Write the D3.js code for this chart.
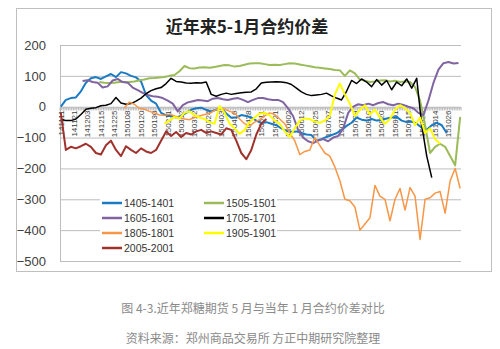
<!DOCTYPE html>
<html><head><meta charset="utf-8">
<script src="https://cdn.jsdelivr.net/npm/d3@7"></script>
<style>
html,body{margin:0;padding:0;background:#fff;}
svg{display:block;}
</style></head><body>
<svg id="chart" width="500" height="349"></svg>
<script>
// Trading-day category axis: one label every 8 sessions
const dayCount = 240;
const labelEvery = 8;
const tickLabels = ["141111","141121","141203","141215","141225","150108","150120","150130","150211","150302",
  "150312","150324","150403","150416","150428","150511","150521","150602","150612","150625",
  "150707","150717","150729","150810","150820","150901","150915","150925","151014","151026"];
const yTicks = [200, 100, 0, -100, -200, -300, -400, -500];

// Spread values (May minus January contract), sampled every 3 sessions
const sampleStep = 3;
const seriesNames = ["1405-1401","1505-1501","1605-1601","1705-1701","1805-1801","1905-1901","2005-2001"];
const seriesStart = [0, 23, 13, 0, 38, 62, 0];

const v1405 = [0,22,28,30,50,78,92,96,90,98,106,96,112,108,100,95,82,38,20,10,-20,-28,-30,-35,-30,-20,-10,-5,-3,-10,
  -15,-10,-5,-22,-36,-35,-27,-30,-35,-45,-53,-50,-55,-60,-70,-78,-82,-80,-85,-90,-92,-110,-105,-98,-92,-86,-75,-62,-52,-35,
  -42,-45,-40,-45,-43,-38,-35,-33,-45,-50,-48,-55,-68,-75,-60,-52,-60,-86];
const v1505 = [80,78,77,78,80,80,80,82,86,88,92,93,95,96,100,103,115,132,125,124,127,128,126,129,132,135,134,130,132,136,
  140,141,141,138,135,136,135,138,141,140,137,134,131,128,126,124,122,119,118,100,118,108,88,84,80,82,85,86,82,84,
  80,82,80,64,20,-60,-150,-130,-120,-130,-160,-190,-33];
const v1605 = [83,86,80,78,62,66,85,90,80,78,62,54,45,38,34,32,28,20,10,-15,5,14,18,22,20,18,26,28,24,22,
  26,28,22,15,22,28,28,24,22,22,15,-5,-30,-75,-100,-112,-118,-110,-105,-112,-100,-95,-70,-20,0,8,5,10,5,12,
  15,8,5,10,6,0,-5,-20,-27,20,77,120,141,145,140,142];
const v1705 = [-40,-45,-45,-40,-25,-8,-5,-3,3,5,10,30,12,8,10,18,28,42,52,58,62,75,92,82,80,77,76,78,77,80,
  40,34,40,44,40,43,45,47,48,58,77,79,80,81,80,78,72,60,48,40,36,38,40,44,35,28,22,50,85,75,
  90,80,65,88,70,85,55,80,68,90,60,92,-60,-160,-230];
const v1805 = [-5,15,8,-5,-8,-15,-20,-27,-28,-24,-30,-35,-40,-42,-35,-30,-25,-22,-12,-5,-8,-15,-20,-40,-55,-62,-50,-42,-30,-20,
  -25,-40,-55,-85,-110,-155,-145,-140,-100,-125,-150,-160,-195,-240,-300,-305,-325,-400,-380,-360,-255,-290,-300,-370,-300,-265,-335,-262,-290,-430,
  -300,-295,-280,-275,-345,-240,-200,-265];
const v1905 = [-55,-45,-33,-38,-20,-15,-28,-35,-40,-50,-55,2,-20,-55,-70,-88,-75,-50,-35,-22,-20,-28,-45,-55,-80,-98,-70,-45,-38,-40,
  -48,-52,-45,-30,40,75,40,10,-30,-10,5,-25,-10,-35,-55,-40,-10,5,-5,-20,-60,-35,-85,-70,-105,-120];
const v2005 = [-20,-140,-130,-135,-128,-120,-130,-150,-155,-125,-110,-140,-160,-128,-140,-150,-135,-145,-150,-140,
  -110,-80,-95,-82,-98,-85,-90,-80,-75,-85,-80,-85,-90,-70,-75,-110,-150,-170,-140,-90,-55,-40];
const seriesValues = [v1405, v1505, v1605, v1705, v1805, v1905, v2005];

// Styling
const colors = ["#1a7ac4", "#9bbb59", "#8064a2", "#000000", "#f79646", "#ffff00", "#a0322e"];
const widths = [2, 2, 2, 1.5, 1.5, 2, 2];

const svg = d3.select("#chart");
const plot = {left: 60, right: 461, top: 45, bottom: 261};

// chart frame
svg.append("rect").attr("x", 16.5).attr("y", 8.5).attr("width", 475).attr("height", 263)
  .attr("fill", "#fff").attr("stroke", "#bfbfbf").attr("stroke-width", 1);

svg.append("text").attr("x", 247).attr("y", 33).attr("text-anchor", "middle")
  .attr("font-family", "Noto Sans CJK SC").attr("font-weight", "bold").attr("font-size", 17)
  .attr("fill", "#222").text("近年来5-1月合约价差");

const x = d3.scaleBand().domain(d3.range(dayCount)).range([plot.left, plot.right]);
const xc = d => x(d) + x.bandwidth() / 2;
const y = d3.scaleLinear().domain([-500, 200]).range([plot.bottom, plot.top]);

// value axis with gridlines
const yAxis = svg.append("g").attr("transform", `translate(${plot.left},0)`)
  .call(d3.axisLeft(y).tickValues(yTicks).tickSizeInner(-(plot.right - plot.left)).tickSizeOuter(0).tickPadding(14));
yAxis.select(".domain").remove();
yAxis.selectAll("line").attr("stroke", "#bdbdbd").attr("stroke-width", 1);
yAxis.selectAll("text").attr("font-family", "Liberation Sans, Arial").attr("font-size", 13).attr("fill", "#404040");

svg.append("line").attr("x1", plot.left + 0.5).attr("x2", plot.left + 0.5)
  .attr("y1", plot.top).attr("y2", plot.bottom).attr("stroke", "#bdbdbd");

// category axis on the zero line
const y0 = Math.round(y(0)) + 0.5;
svg.append("g").selectAll("line").data(d3.range(dayCount + 1)).join("line")
  .attr("x1", d => (d < dayCount ? x(d) : plot.right)).attr("x2", d => (d < dayCount ? x(d) : plot.right))
  .attr("y1", y0).attr("y2", y0 + 3).attr("stroke", "#a8a8a8").attr("stroke-width", 0.8);

const xAxis = svg.append("g").attr("transform", `translate(0,${y0})`)
  .call(d3.axisBottom(x).tickValues(d3.range(0, dayCount, labelEvery).slice(0, tickLabels.length))
    .tickFormat(d => tickLabels[d / labelEvery]).tickSizeInner(0).tickSizeOuter(0).tickPadding(3));
xAxis.select(".domain").attr("stroke", "#bdbdbd");
xAxis.selectAll("text")
  .attr("font-family", "Liberation Sans, Arial").attr("font-size", 8).attr("fill", "#404040")
  .attr("text-anchor", "end").attr("transform", "rotate(-90)")
  .attr("x", -3).attr("y", 0).attr("dy", "0.35em");

// series lines
const line = d3.line().x(d => xc(d.day)).y(d => y(d.value));
seriesValues.forEach((vals, si) => {
  const pts = vals.map((v, i) => ({day: seriesStart[si] + i * sampleStep, value: v}));
  svg.append("path").datum(pts).attr("d", line)
    .attr("fill", "none").attr("stroke", colors[si]).attr("stroke-width", widths[si])
    .attr("stroke-linejoin", "round");
});

// legend
svg.append("rect").attr("x", 100).attr("y", 195).attr("width", 177).attr("height", 60).attr("fill", "#fff");
const legendPos = [[102, 203], [204, 203], [102, 218], [204, 218], [102, 233], [204, 233], [102, 248]];
seriesNames.forEach((name, i) => {
  const [lx, ly] = legendPos[i];
  svg.append("line").attr("x1", lx).attr("x2", lx + 20).attr("y1", ly).attr("y2", ly)
    .attr("stroke", colors[i]).attr("stroke-width", 2.5);
  svg.append("text").attr("x", lx + 22).attr("y", ly).attr("dy", "0.35em")
    .attr("font-family", "Liberation Sans, Arial").attr("font-size", 10.5).attr("fill", "#333").text(name);
});

// caption
svg.append("text").attr("x", 253).attr("y", 313).attr("text-anchor", "middle")
  .attr("font-family", "Noto Sans CJK SC").attr("font-size", 12).attr("fill", "#8a8a8a")
  .text("图 4-3.近年郑糖期货 5 月与当年 1 月合约价差对比");
svg.append("text").attr("x", 253).attr("y", 343).attr("text-anchor", "middle")
  .attr("font-family", "Noto Sans CJK SC").attr("font-size", 12).attr("fill", "#8a8a8a")
  .text("资料来源：郑州商品交易所 方正中期研究院整理");
</script></body></html>
